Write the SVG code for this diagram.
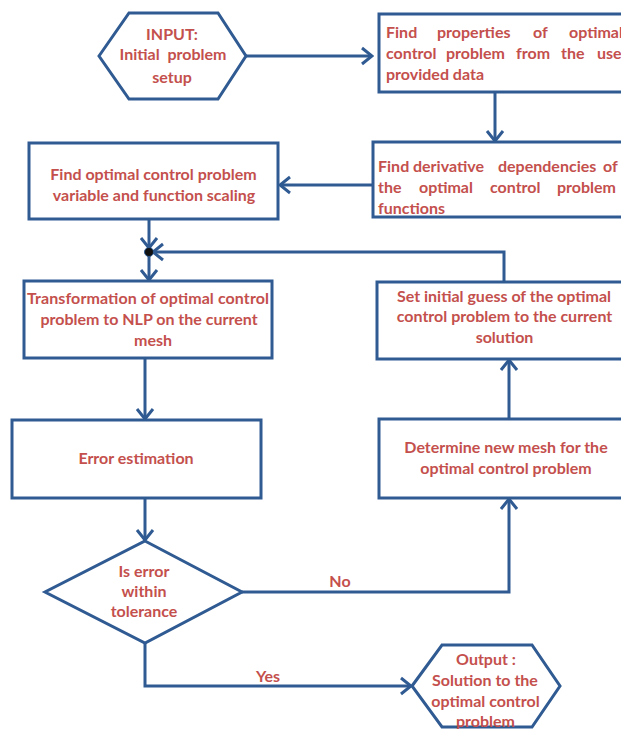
<svg xmlns="http://www.w3.org/2000/svg" width="621" height="729" viewBox="0 0 621 729">
<style>
.n{fill:#fff;stroke:#2F5A92;stroke-width:3}
.c{fill:none;stroke:#2F5A92;stroke-width:3}
text{font-family:Lato,"Open Sans","Liberation Sans",sans-serif;font-weight:bold;font-size:16px;fill:#C4504D}
.m{text-anchor:middle}
</style>
<defs>
<marker id="a" markerUnits="userSpaceOnUse" markerWidth="14" markerHeight="20" refX="12" refY="10" orient="auto" viewBox="0 0 14 20">
<path d="M2,2 L12,10 L2,18" fill="none" stroke="#2F5A92" stroke-width="3"/>
</marker>
</defs>
<rect width="621" height="729" fill="#fff"/>
<g id="connectors">
<line class="c" x1="246" y1="56" x2="372" y2="56" marker-end="url(#a)"/>
<line class="c" x1="495" y1="92" x2="495" y2="141" marker-end="url(#a)"/>
<line class="c" x1="373" y1="185" x2="280" y2="185" marker-end="url(#a)"/>
<line class="c" x1="149" y1="219" x2="149" y2="248" marker-end="url(#a)"/>
<polyline class="c" points="504,282 504,252 153,252" marker-end="url(#a)"/>
<line class="c" x1="149" y1="252" x2="149" y2="280" marker-end="url(#a)"/>
<line class="c" x1="145" y1="358" x2="145" y2="419" marker-end="url(#a)"/>
<line class="c" x1="145" y1="498" x2="145" y2="540" marker-end="url(#a)"/>
<polyline class="c" points="242,592 509,592 509,499" marker-end="url(#a)"/>
<line class="c" x1="509" y1="419" x2="509" y2="360" marker-end="url(#a)"/>
<polyline class="c" points="145,643 145,686 411,686" marker-end="url(#a)"/>
<circle cx="149" cy="252" r="4.5" fill="#111" stroke="#2F5A92" stroke-width="1"/>
<text class="m" x="340" y="587">No</text>
<text class="m" x="268" y="682">Yes</text>
</g>
<g id="input">
<polygon class="n" points="99,56 129,13 218,13 246,56 218,99 129,99"/>
<text class="m" x="172" y="40">INPUT:</text>
<text class="m" x="173" y="60" xml:space="preserve">Initial  problem</text>
<text class="m" x="172" y="83">setup</text>
</g>
<g id="properties">
<rect class="n" x="379" y="14" width="260" height="78"/>
<text y="38"><tspan x="386">Find</tspan><tspan x="437">properties</tspan><tspan x="533">of</tspan><tspan x="569">optimal</tspan></text>
<text y="59"><tspan x="386">control</tspan><tspan x="446">problem</tspan><tspan x="516">from</tspan><tspan x="561">the</tspan><tspan x="597">user</tspan></text>
<text x="386" y="80">provided data</text>
</g>
<g id="derivative">
<rect class="n" x="373" y="142" width="260" height="75"/>
<text y="172"><tspan x="378">Find</tspan><tspan x="413">derivative</tspan><tspan x="498">dependencies</tspan><tspan x="603">of</tspan></text>
<text y="193"><tspan x="378">the</tspan><tspan x="419">optimal</tspan><tspan x="490">control</tspan><tspan x="557">problem</tspan></text>
<text x="378" y="214">functions</text>
</g>
<g id="scaling">
<rect class="n" x="29" y="143" width="249" height="76"/>
<text class="m" x="153.5" y="180">Find optimal control problem</text>
<text class="m" x="154" y="201">variable and function scaling</text>
</g>
<g id="transformation">
<rect class="n" x="24" y="281" width="248" height="77"/>
<text class="m" x="148" y="304" textLength="242">Transformation of optimal control</text>
<text class="m" x="149" y="325">problem to NLP on the current</text>
<text class="m" x="153" y="346">mesh</text>
</g>
<g id="error">
<rect class="n" x="12" y="420" width="249" height="78"/>
<text class="m" x="136" y="464">Error estimation</text>
</g>
<g id="decision">
<polygon class="n" points="145,541 242,592 145,643 45,592"/>
<text class="m" x="144" y="577">Is error</text>
<text class="m" x="144" y="597">within</text>
<text class="m" x="144" y="617">tolerance</text>
</g>
<g id="newmesh">
<rect class="n" x="379" y="419" width="260" height="79"/>
<text class="m" x="506" y="453">Determine new mesh for the</text>
<text class="m" x="506" y="474">optimal control problem</text>
</g>
<g id="guess">
<rect class="n" x="377" y="282" width="260" height="77"/>
<text class="m" x="504" y="302">Set initial guess of the optimal</text>
<text class="m" x="504.5" y="322">control problem to the current</text>
<text class="m" x="504.5" y="343">solution</text>
</g>
<g id="output">
<polygon class="n" points="412,686 442,645 532,645 560,686 532,727 442,727"/>
<text class="m" x="486" y="665">Output :</text>
<text class="m" x="485" y="686">Solution to the</text>
<text class="m" x="485.5" y="707">optimal control</text>
<text class="m" x="485.5" y="727">problem</text>
</g>
</svg>
